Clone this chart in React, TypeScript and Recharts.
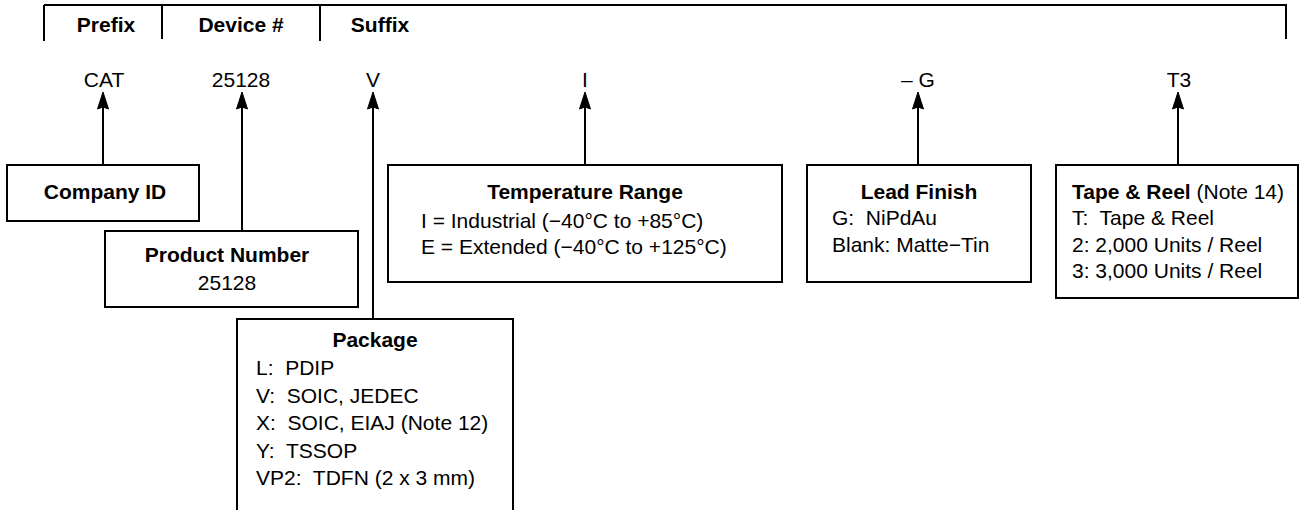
import React from "react";
import { ScatterChart, Scatter, XAxis, YAxis, ReferenceArea, ReferenceLine } from "recharts";

// ---------- content ----------
const headerLabels = ["Prefix", "Device #", "Suffix"];
const codeLabels = ["CAT", "25128", "V", "I", "\u2013 G", "T3"];
const boxTitles = ["Company ID", "Product Number", "Package", "Temperature Range", "Lead Finish", "Tape & Reel"];
const boxNotes = ["", "", "", "", "", " (Note 14)"];
const companyLines: string[] = [];
const productLines = ["25128"];
const packageLines = [
  "L:  PDIP",
  "V:  SOIC, JEDEC",
  "X:  SOIC, EIAJ (Note 12)",
  "Y:  TSSOP",
  "VP2:  TDFN (2 x 3 mm)",
];
const temperatureLines = [
  "I = Industrial (\u221240\u00B0C to +85\u00B0C)",
  "E = Extended (\u221240\u00B0C to +125\u00B0C)",
];
const leadLines = ["G:  NiPdAu", "Blank: Matte\u2212Tin"];
const tapeLines = ["T:  Tape & Reel", "2: 2,000 Units / Reel", "3: 3,000 Units / Reel"];
const boxLines = [companyLines, productLines, packageLines, temperatureLines, leadLines, tapeLines];

// ---------- layout (diagram coordinates, mapped by the axes) ----------
const W = 1300;
const H = 510;
const headerTextX = [106, 241, 380];
const headerBaseline = 32;
const headerTop = 5;
const headerLeft = 44;
const headerRight = 1287;
const headerTickX = [44, 162, 320, 1286];
const headerTickBottom = [41, 39, 41, 39];
const codeX = [104, 241, 373, 585, 918, 1179];
const codeBaseline = 87;
const arrowX = [103, 242, 373, 585, 918, 1178];
const arrowTip = 92;
const arrowHeadLen = 17;
const boxRects = [
  { x1: 7, x2: 199, y1: 165, y2: 221 },
  { x1: 105, x2: 358, y1: 231, y2: 307 },
  { x1: 237, x2: 513, y1: 319, y2: 540 },
  { x1: 388, x2: 782, y1: 165, y2: 282 },
  { x1: 807, x2: 1031, y1: 165, y2: 282 },
  { x1: 1056, x2: 1298, y1: 165, y2: 298 },
];
const titlePos = [
  { x: 105, y: 199, anchor: "middle" },
  { x: 227, y: 262, anchor: "middle" },
  { x: 375, y: 347, anchor: "middle" },
  { x: 585, y: 199, anchor: "middle" },
  { x: 919, y: 199, anchor: "middle" },
  { x: 1072, y: 199, anchor: "start" },
];
const linePos = [
  { x: 105, y0: 0, dy: 0, anchor: "middle" },
  { x: 227, y0: 290, dy: 0, anchor: "middle" },
  { x: 256, y0: 375, dy: 27.5, anchor: "start" },
  { x: 421, y0: 228, dy: 25.5, anchor: "start" },
  { x: 832, y0: 225, dy: 27, anchor: "start" },
  { x: 1072, y0: 225, dy: 26.5, anchor: "start" },
];

const FONT = "'Liberation Sans', Arial, Helvetica, sans-serif";
const FS = 21;

type TextItem = { x: number; y: number; text: string; bold: boolean; anchor: string; note?: string };

const textItems: TextItem[] = [
  ...headerLabels.map((t, i) => ({ x: headerTextX[i], y: headerBaseline, text: t, bold: true, anchor: "middle" })),
  ...codeLabels.map((t, i) => ({ x: codeX[i], y: codeBaseline, text: t, bold: false, anchor: "middle" })),
  ...boxTitles.map((t, i) => ({
    x: titlePos[i].x,
    y: titlePos[i].y,
    text: t,
    bold: true,
    anchor: titlePos[i].anchor,
    note: boxNotes[i],
  })),
  ...boxLines.flatMap((lines, i) =>
    lines.map((t, j) => ({
      x: linePos[i].x,
      y: linePos[i].y0 + j * linePos[i].dy,
      text: t,
      bold: false,
      anchor: linePos[i].anchor,
    }))
  ),
];

const arrowItems = arrowX.map((x) => ({ x, y: arrowTip }));

const TextShape = (props: any) => {
  const { cx, cy, payload } = props;
  if (cx == null || cy == null) return null;
  return (
    <text
      x={cx}
      y={cy}
      textAnchor={payload.anchor}
      fontFamily={FONT}
      fontSize={FS}
      fontWeight={payload.bold ? "bold" : "normal"}
      fill="#000"
      style={{ whiteSpace: "pre" }}
      xmlSpace="preserve"
    >
      {payload.text}
      {payload.note ? <tspan fontWeight="normal">{payload.note}</tspan> : null}
    </text>
  );
};

const ArrowHead = (props: any) => {
  const { cx, cy } = props;
  if (cx == null || cy == null) return null;
  return (
    <polygon
      points={`${cx},${cy} ${cx - 5.5},${cy + arrowHeadLen} ${cx},${cy + arrowHeadLen - 2} ${cx + 5.5},${cy + arrowHeadLen}`}
      fill="#000"
      stroke="#000"
      strokeWidth={1}
      strokeLinejoin="miter"
    />
  );
};

export default function App() {
  return (
    <div style={{ position: "absolute", left: 0, top: 0, width: W, height: H, background: "#fff" }}>
      <ScatterChart width={W} height={H} margin={{ top: 0, right: 0, bottom: 0, left: 0 }}>
        <XAxis type="number" dataKey="x" domain={[0, W]} hide allowDataOverflow />
        <YAxis type="number" dataKey="y" domain={[0, H]} reversed hide allowDataOverflow />

        {/* header bracket */}
        <ReferenceLine
          segment={[
            { x: headerLeft, y: headerTop },
            { x: headerRight, y: headerTop },
          ]}
          stroke="#000"
          strokeWidth={2}
          ifOverflow="visible"
        />
        {headerTickX.map((x, i) => (
          <ReferenceLine
            key={`ht${i}`}
            segment={[
              { x, y: headerTop },
              { x, y: headerTickBottom[i] },
            ]}
            stroke="#000"
            strokeWidth={2}
            ifOverflow="visible"
          />
        ))}

        {/* arrow stems */}
        {arrowX.map((x, i) => (
          <ReferenceLine
            key={`st${i}`}
            segment={[
              { x, y: arrowTip + arrowHeadLen - 3 },
              { x, y: boxRects[i].y1 },
            ]}
            stroke="#000"
            strokeWidth={2}
            ifOverflow="visible"
          />
        ))}

        {/* boxes */}
        {boxRects.map((r, i) => (
          <ReferenceArea
            key={`bx${i}`}
            x1={r.x1}
            x2={r.x2}
            y1={r.y1}
            y2={r.y2}
            fill="#fff"
            fillOpacity={0}
            stroke="#000"
            strokeWidth={2}
            ifOverflow="visible"
          />
        ))}

        <Scatter data={arrowItems} shape={ArrowHead} isAnimationActive={false} />
        <Scatter data={textItems} shape={TextShape} isAnimationActive={false} />
      </ScatterChart>
    </div>
  );
}
